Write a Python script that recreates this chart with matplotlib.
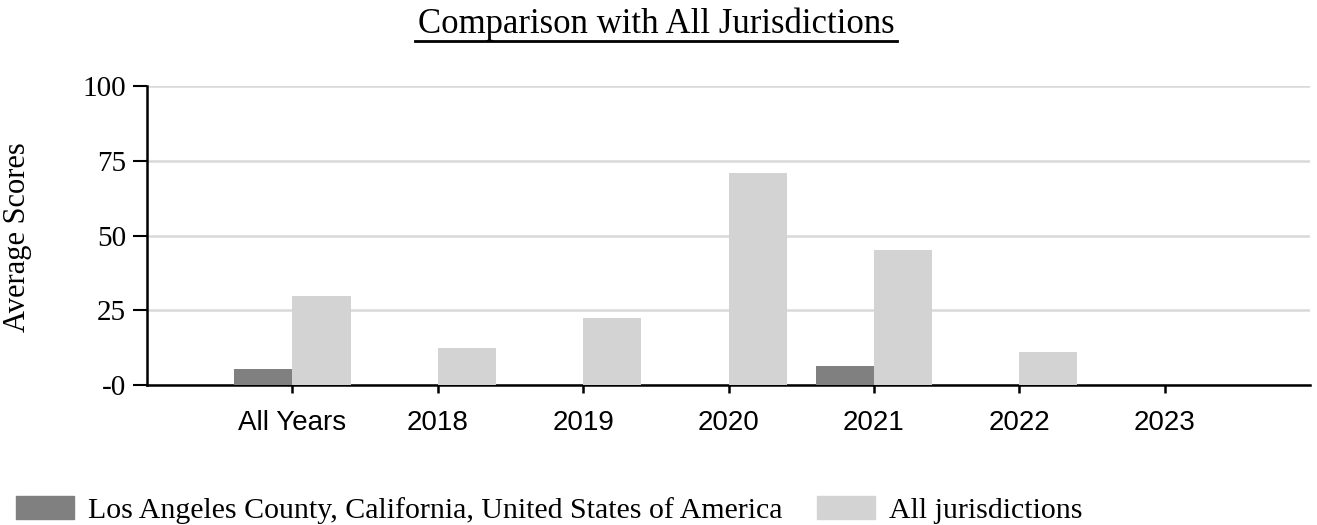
import matplotlib
matplotlib.use("Agg")
import matplotlib.pyplot as plt
from matplotlib.lines import Line2D
from matplotlib.patches import Patch
import numpy as np

categories = ["All Years", "2018", "2019", "2020", "2021", "2022", "2023"]
la_county = [5.2, 0, 0, 0, 6.5, 0, 0]
all_jurisdictions = [29.8, 12.4, 22.4, 71.0, 45.0, 11.0, 0]
y_ticks = [0, 25, 50, 75, 100]
y_tick_labels = ["-0", "25", "50", "75", "100"]
series_names = ["Los Angeles County, California, United States of America", "All jurisdictions"]

dark = "#808080"
light = "#d3d3d3"

W, H = 1317, 525
fig = plt.figure(figsize=(W / 100, H / 100), dpi=100)
# axes box: x 147..1310 px, y 86..385 px
ax = fig.add_axes([147 / W, 1 - 385 / H, (1310 - 147) / W, (385 - 86) / H])

x = np.arange(1, len(categories) + 1)
w = 0.4
ax.bar(x - w / 2, la_county, w, color=dark, zorder=3)
ax.bar(x + w / 2, all_jurisdictions, w, color=light, zorder=3)

ax.set_xlim(0, len(categories) + 1)
ax.set_ylim(0, 100)
ax.set_xticks(x)
ax.set_xticklabels(categories, family="Liberation Sans", fontsize=20)
ax.set_yticks(y_ticks)
ax.set_yticklabels(y_tick_labels, family="Liberation Serif", fontsize=21)
ax.tick_params(axis="y", length=10, width=1.5, pad=5)
ax.tick_params(axis="x", length=6, width=1.8, pad=12)
ax.grid(axis="y", color="#d9d9d9", linewidth=1.8, zorder=0)
for s in ["top", "right"]:
    ax.spines[s].set_visible(False)
for s in ["left", "bottom"]:
    ax.spines[s].set_linewidth(1.8)

fig.text(18 / W, 1 - 237 / H, "Average Scores", family="Liberation Serif", fontsize=22,
         rotation=90, ha="center", va="center")

fig.text(656 / W, 1 - 33 / H, "Comparison with All Jurisdictions", family="Liberation Serif",
         fontsize=25, ha="center", va="baseline")
fig.add_artist(Line2D([415 / W, 897 / W], [1 - 41 / H, 1 - 41 / H],
                      color="black", linewidth=2))

handles = [Patch(color=dark), Patch(color=light)]
fig.legend(handles, series_names, loc="center left", bbox_to_anchor=(16 / W, 1 - 510 / H), ncol=2,
           frameon=False, prop={"family": "Liberation Serif", "size": 21.5}, borderpad=0,
           borderaxespad=0, handlelength=1.95, handleheight=0.8, handletextpad=0.47,
           columnspacing=1.15)

fig.savefig("out.png", dpi=100)
